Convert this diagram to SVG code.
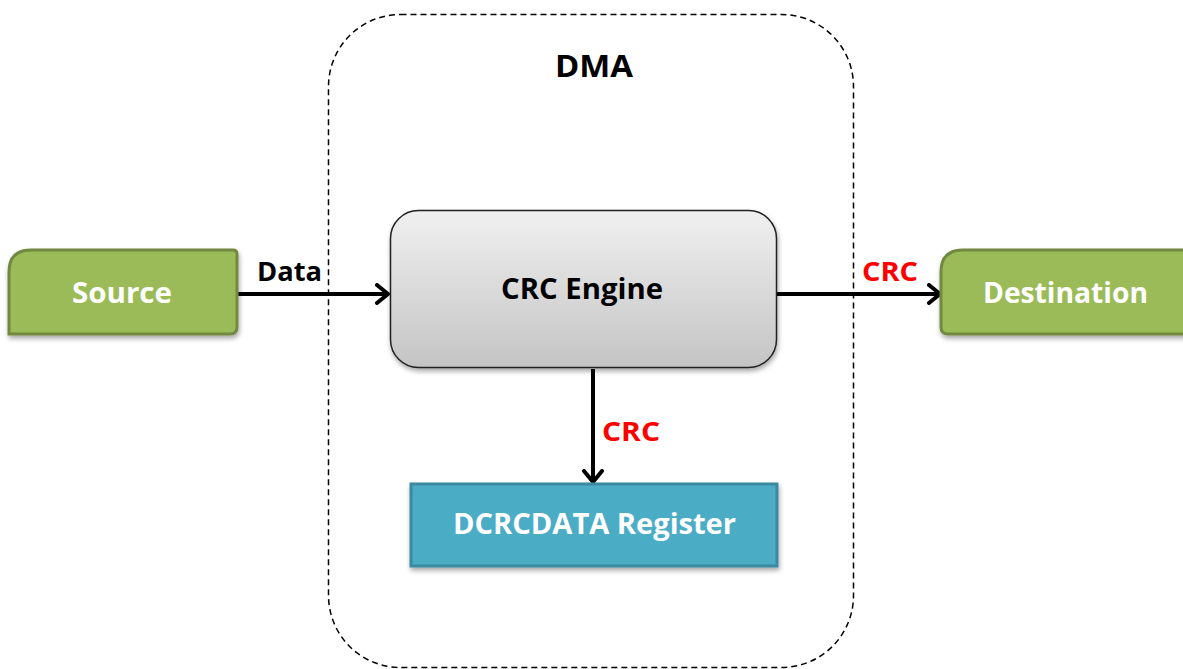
<svg xmlns="http://www.w3.org/2000/svg" width="1183" height="669" viewBox="0 0 1183 669">
<defs>
<linearGradient id="gray" x1="0" y1="0" x2="0" y2="1">
<stop offset="0" stop-color="#f0f0f0"/>
<stop offset="1" stop-color="#c4c4c4"/>
</linearGradient>
<filter id="sh" x="-10%" y="-10%" width="130%" height="130%">
<feGaussianBlur in="SourceAlpha" stdDeviation="2.5"/>
<feOffset dx="1" dy="3"/>
<feComponentTransfer><feFuncA type="linear" slope="0.35"/></feComponentTransfer>
<feMerge><feMergeNode/><feMergeNode in="SourceGraphic"/></feMerge>
</filter>
<marker id="arr" markerWidth="16" markerHeight="22" refX="13" refY="11" orient="auto" markerUnits="userSpaceOnUse">
<path d="M2,2 L13,11 L2,20" fill="none" stroke="#000" stroke-width="4" stroke-linecap="round" stroke-linejoin="round"/>
</marker>
</defs>
<style>
text{font-family:"Open Sans","Liberation Sans",Arial,sans-serif;font-weight:bold;text-anchor:middle}
.w{fill:#fff;font-size:28px}
.k{fill:#000}
.r{fill:#ff0000;font-size:27px}
.green{fill:#9bbb59;stroke:#71893f;stroke-width:3}
.conn{stroke:#000;stroke-width:4;fill:none}
</style>
<rect width="1183" height="669" fill="#fff"/>
<g id="dma">
<rect x="328.5" y="14.5" width="525" height="653" rx="72" ry="72" fill="none" stroke="#000" stroke-width="1.5" stroke-dasharray="6,4"/>
<text class="k" x="594" y="77" font-size="31" textLength="78" lengthAdjust="spacingAndGlyphs">DMA</text>
</g>
<g id="connectors">
<line class="conn" x1="237" y1="294" x2="388" y2="294" marker-end="url(#arr)"/>
<line class="conn" x1="777" y1="294" x2="940" y2="294" marker-end="url(#arr)"/>
<line class="conn" x1="593" y1="369" x2="593" y2="482" marker-end="url(#arr)"/>
<text class="k" x="289.5" y="281" font-size="27" textLength="65" lengthAdjust="spacingAndGlyphs">Data</text>
<text class="r" x="890" y="281" textLength="56" lengthAdjust="spacingAndGlyphs">CRC</text>
<text class="r" x="631" y="441" textLength="58" lengthAdjust="spacingAndGlyphs">CRC</text>
</g>
<g id="source">
<path class="green" d="M31,250 L233,250 Q237,250 237,254 L237,327 Q237,334 230,334 L9,334 L9,272 Q9,250 31,250 Z" filter="url(#sh)"/>
<text class="w" x="122" y="303" textLength="100" lengthAdjust="spacingAndGlyphs">Source</text>
</g>
<g id="destination">
<path class="green" d="M963,250 L1190,250 L1190,334 L948,334 Q941,334 941,327 L941,272 Q941,250 963,250 Z" filter="url(#sh)"/>
<text class="w" x="1065.5" y="303" textLength="165" lengthAdjust="spacingAndGlyphs">Destination</text>
</g>
<g id="crc-engine">
<rect x="390.5" y="210.5" width="386" height="157" rx="28" ry="28" fill="url(#gray)" stroke="#222" stroke-width="1.5" filter="url(#sh)"/>
<text class="k" x="582" y="299" font-size="28" textLength="162" lengthAdjust="spacingAndGlyphs">CRC Engine</text>
</g>
<g id="dcrcdata">
<rect x="411" y="484" width="366" height="82" fill="#4bacc6" stroke="#3a8aa0" stroke-width="3" filter="url(#sh)"/>
<text class="w" x="594.5" y="534" textLength="283" lengthAdjust="spacingAndGlyphs">DCRCDATA Register</text>
</g>
</svg>
